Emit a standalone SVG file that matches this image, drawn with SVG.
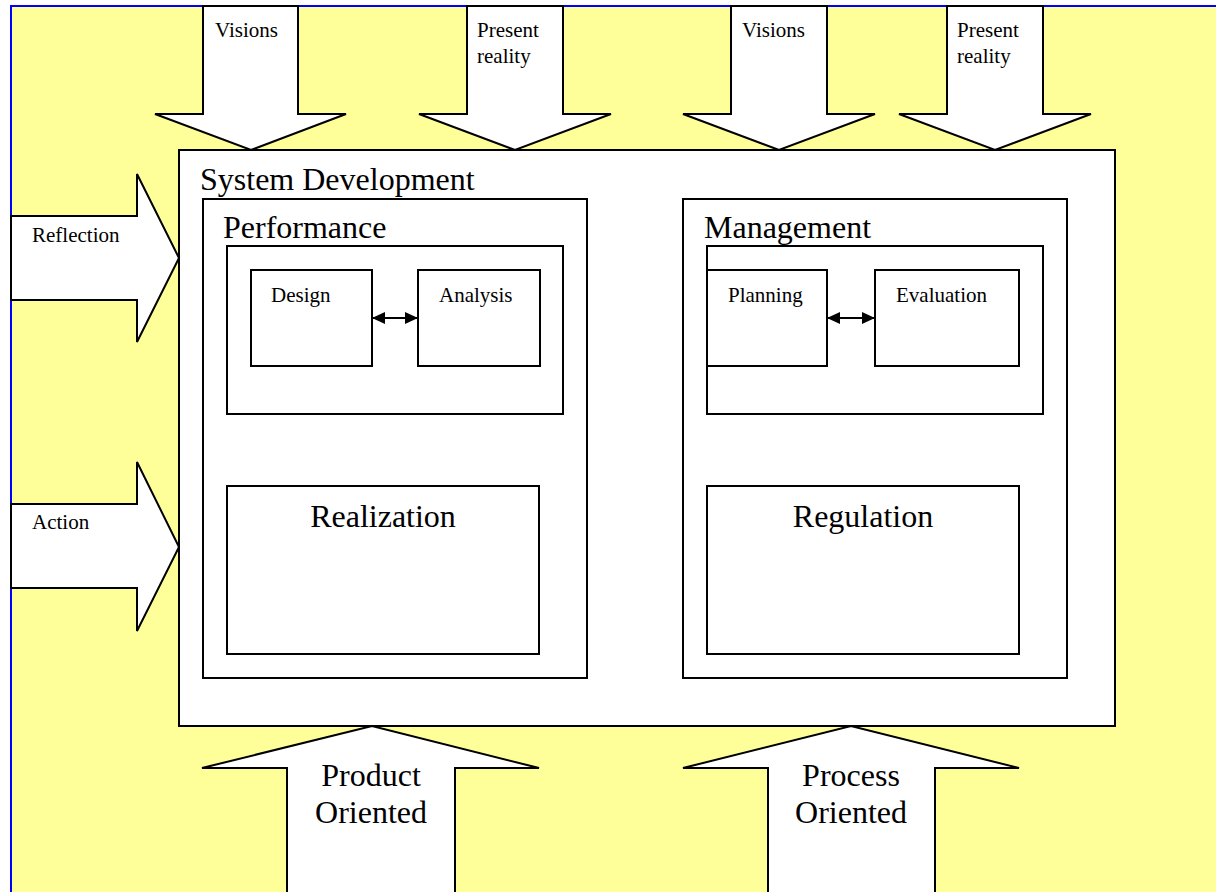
<svg xmlns="http://www.w3.org/2000/svg" width="1216" height="892" viewBox="0 0 1216 892">
  <defs>
    <style>
      .bg { fill: #FFFF99; stroke: #0000FF; stroke-width: 2; }
      .arrow { fill: #FFFFFF; stroke: #000000; stroke-width: 2; stroke-linejoin: miter; }
      .box { fill: #FFFFFF; stroke: #000000; stroke-width: 2; }
      .link { fill: none; stroke: #000000; stroke-width: 2; }
      text { font-family: "Liberation Serif", "Times New Roman", serif; fill: #000000; }
      .small { font-size: 21px; }
      .large { font-size: 32px; }
      .mid { text-anchor: middle; }
    </style>
    <marker id="head" viewBox="0 0 13 12" refX="13" refY="6" markerWidth="13" markerHeight="12" markerUnits="userSpaceOnUse" orient="auto-start-reverse">
      <path d="M0,0 L13,6 L0,12 Z" fill="#000000"/>
    </marker>
  </defs>

  <!-- page background -->
  <rect class="bg" x="11" y="6" width="1220" height="900"/>

  <!-- arrows coming in from the top -->
  <g id="arrow-visions-1">
    <path class="arrow" d="M203,6 L298,6 L298,114 L346,114 L251,150 L155,114 L203,114 Z"/>
    <text class="small" x="215" y="37">Visions</text>
  </g>
  <g id="arrow-present-1">
    <path class="arrow" d="M467,6 L563,6 L563,114 L611,114 L515,150 L419,114 L467,114 Z"/>
    <text class="small" x="477" y="37">Present</text>
    <text class="small" x="477" y="63">reality</text>
  </g>
  <g id="arrow-visions-2">
    <path class="arrow" d="M731,6 L827,6 L827,114 L875,114 L779,150 L683,114 L731,114 Z"/>
    <text class="small" x="742" y="37">Visions</text>
  </g>
  <g id="arrow-present-2">
    <path class="arrow" d="M947,6 L1043,6 L1043,114 L1091,114 L995,150 L899,114 L947,114 Z"/>
    <text class="small" x="957" y="37">Present</text>
    <text class="small" x="957" y="63">reality</text>
  </g>

  <!-- arrows coming in from the left -->
  <g id="arrow-reflection">
    <path class="arrow" d="M11,216 L137,216 L137,174 L179,258 L137,342 L137,300 L11,300 Z"/>
    <text class="small" x="32" y="242">Reflection</text>
  </g>
  <g id="arrow-action">
    <path class="arrow" d="M11,504 L137,504 L137,462 L179,547 L137,631 L137,588 L11,588 Z"/>
    <text class="small" x="32" y="529">Action</text>
  </g>

  <!-- arrows coming in from the bottom -->
  <g id="arrow-product">
    <path class="arrow" d="M287,900 L287,768 L202,768 L372,726 L539,768 L455,768 L455,900"/>
    <text class="large mid" x="371" y="786">Product</text>
    <text class="large mid" x="371" y="823">Oriented</text>
  </g>
  <g id="arrow-process">
    <path class="arrow" d="M768,900 L768,768 L683,768 L851,726 L1019,768 L935,768 L935,900"/>
    <text class="large mid" x="851" y="786">Process</text>
    <text class="large mid" x="851" y="823">Oriented</text>
  </g>

  <!-- system development frame -->
  <g id="system-development">
    <rect class="box" x="179" y="150" width="936" height="576"/>
    <text class="large" x="200" y="190">System Development</text>
  </g>

  <!-- performance column -->
  <g id="performance">
    <rect class="box" x="203" y="199" width="384" height="479"/>
    <text class="large" x="223" y="238">Performance</text>
    <rect class="box" x="227" y="246" width="336" height="168"/>
  </g>
  <g id="design">
    <rect class="box" x="251" y="270" width="121" height="96"/>
    <text class="small" x="271" y="302">Design</text>
  </g>
  <g id="analysis">
    <rect class="box" x="418" y="270" width="122" height="96"/>
    <text class="small" x="439" y="302">Analysis</text>
  </g>
  <g id="realization">
    <rect class="box" x="227" y="486" width="312" height="168"/>
    <text class="large mid" x="383" y="527">Realization</text>
  </g>

  <!-- management column -->
  <g id="management">
    <rect class="box" x="683" y="199" width="384" height="479"/>
    <text class="large" x="704" y="238">Management</text>
    <rect class="box" x="707" y="246" width="336" height="168"/>
  </g>
  <g id="planning">
    <rect class="box" x="707" y="270" width="120" height="96"/>
    <text class="small" x="728" y="302">Planning</text>
  </g>
  <g id="evaluation">
    <rect class="box" x="875" y="270" width="144" height="96"/>
    <text class="small" x="896" y="302">Evaluation</text>
  </g>
  <g id="regulation">
    <rect class="box" x="707" y="486" width="312" height="168"/>
    <text class="large mid" x="863" y="527">Regulation</text>
  </g>

  <!-- two-way links between paired activities -->
  <g id="connectors">
    <line class="link" x1="372" y1="318" x2="418" y2="318" marker-start="url(#head)" marker-end="url(#head)"/>
    <line class="link" x1="827" y1="318" x2="875" y2="318" marker-start="url(#head)" marker-end="url(#head)"/>
  </g>
</svg>
